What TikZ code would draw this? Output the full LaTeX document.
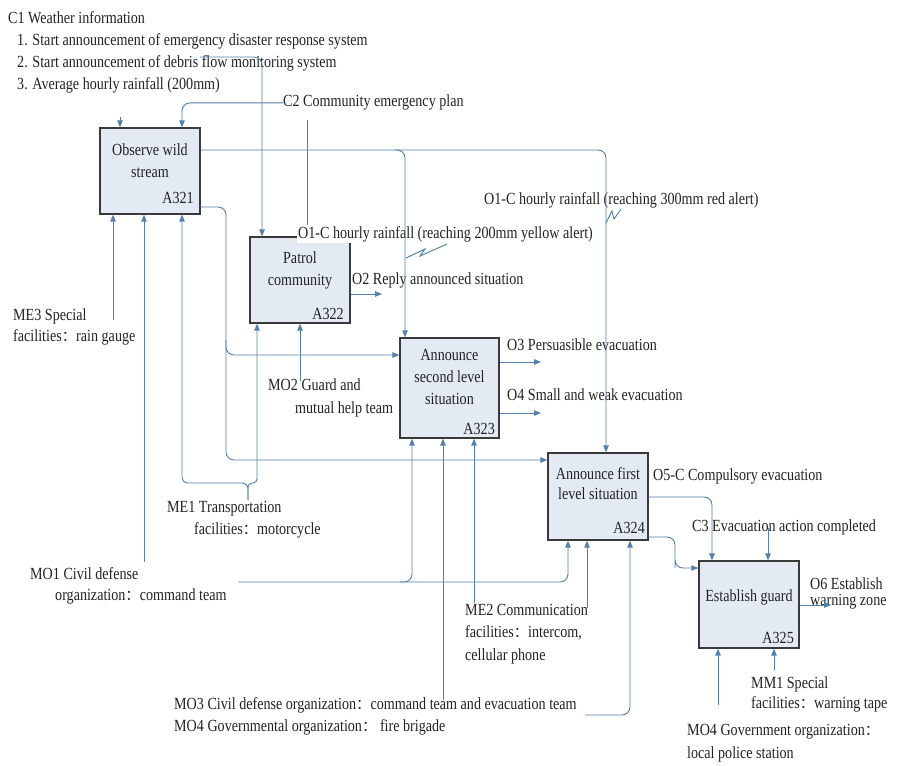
\documentclass[tikz,border=0pt]{standalone}
\usepackage{fontspec}
\setmainfont{Liberation Serif}[FakeStretch=0.83]
\newfontfamily\cjkfont{Noto Sans CJK SC}[Scale=0.85]
\newcommand{\fwcolon}{{\cjkfont\char"FF1A}}
\usetikzlibrary{arrows.meta}

\definecolor{wire}{HTML}{5580AC}
\definecolor{boxfill}{HTML}{E4EAF4}
\definecolor{boxedge}{HTML}{3A3A3A}
\definecolor{ink}{HTML}{222222}

\begin{document}
\begin{tikzpicture}[x=1pt,y=-1pt,
  actbox/.style={draw=boxedge, fill=boxfill, line width=1.3pt, inner sep=0pt},
  lbl/.style={inner sep=0pt, anchor=north west, align=left, text=ink,
              font=\fontsize{17}{21.5}\selectfont},
  intext/.style={inner sep=0pt, anchor=north, align=center, text=ink,
              font=\fontsize{17}{21.5}\selectfont},
  boxid/.style={inner sep=0pt, anchor=base east, text=ink,
              font=\fontsize{17}{21.5}\selectfont},
  wire/.style={draw=wire, line width=0.95pt, rounded corners=8pt},
  arr/.style={wire, -{Triangle[length=7pt,width=5.5pt]}}]

\useasboundingbox (0,0) rectangle (904,765);

% activity boxes
\node[actbox, minimum width=100pt, minimum height=86pt]  (a321) at (150,171)   {};
\node[actbox, minimum width=100pt, minimum height=86pt]  (a322) at (300,280)   {};
\node[actbox, minimum width=99pt,  minimum height=100pt] (a323) at (449.5,388) {};
\node[actbox, minimum width=100pt, minimum height=87pt]  (a324) at (598,496.5) {};
\node[actbox, minimum width=100pt, minimum height=87pt]  (a325) at (749,604.5) {};

% box titles and numbers
\node[intext] (a321t) at (150,144) {Observe wild\\stream};
\node[boxid]  (a321n) at (194,203) {A321};
\node[intext] (a322t) at (300,252) {Patrol\\community};
\node[boxid]  (a322n) at (344,319) {A322};
\node[intext, font=\fontsize{17}{22}\selectfont] (a323t) at (449.5,349) {Announce\\second level\\situation};
\node[boxid]  (a323n) at (495,434) {A323};
\node[intext, font=\fontsize{17}{20}\selectfont] (a324t) at (598,467) {Announce first\\level situation};
\node[boxid]  (a324n) at (645,533) {A324};
\node[intext] (a325t) at (749,589) {Establish guard};
\node[boxid]  (a325n) at (794,643) {A325};

% controls, mechanisms and outputs
\node[lbl, font=\fontsize{17}{22}\selectfont] (c1) at (8,11)
  {C1 Weather information\\
   \hspace*{9pt}1. Start announcement of emergency disaster response system\\
   \hspace*{9pt}2. Start announcement of debris flow monitoring system\\
   \hspace*{9pt}3. Average hourly rainfall (200mm)};
\node[lbl] (c2) at (283,95) {C2 Community emergency plan};
\node[lbl, fill=white, inner sep=1pt] (o1y) at (297,225) {O1-C hourly rainfall (reaching 200mm yellow alert)};
\node[lbl] (o1r) at (484,192) {O1-C hourly rainfall (reaching 300mm red alert)};
\node[lbl] (o2) at (352,273) {O2 Reply announced situation};
\node[lbl, font=\fontsize{17}{21}\selectfont] (me3) at (13,309) {ME3 Special\\facilities\fwcolon rain gauge};
\node[lbl, font=\fontsize{17}{23}\selectfont] (mo2) at (268,378) {MO2 Guard and\\\hspace*{27pt}mutual help team};
\node[lbl] (o3) at (507,339) {O3 Persuasible evacuation};
\node[lbl] (o4) at (507,389) {O4 Small and weak evacuation};
\node[lbl, font=\fontsize{17}{22}\selectfont] (me1) at (167,501) {ME1 Transportation\\\hspace*{27pt}facilities\fwcolon motorcycle};
\node[lbl, font=\fontsize{17}{21}\selectfont] (mo1) at (30,567) {MO1 Civil defense\\\hspace*{25pt}organization\fwcolon command team};
\node[lbl] (o5) at (653,468) {O5-C Compulsory evacuation};
\node[lbl] (c3) at (692,519) {C3 Evacuation action completed};
\node[lbl, font=\fontsize{17}{22.5}\selectfont] (me2) at (465,604) {ME2 Communication\\facilities\fwcolon intercom,\\cellular phone};
\node[lbl, font=\fontsize{17}{22}\selectfont] (mo3) at (174,697)
  {MO3 Civil defense organization\fwcolon command team and evacuation team\\
   MO4 Governmental organization\fwcolon{} fire brigade};
\node[lbl, font=\fontsize{17}{16}\selectfont] (o6) at (810,577) {O6 Establish\\warning zone};
\node[lbl, font=\fontsize{17}{20}\selectfont] (mm1) at (751,676) {MM1 Special\\facilities\fwcolon warning tape};
\node[lbl, font=\fontsize{17}{23}\selectfont] (mo4) at (687,724) {MO4 Government organization\fwcolon\\local police station};

% free ends of the connectors
\coordinate (c1a)  at (120,117);
\coordinate (c1b)  at (200,57);
\coordinate (c2s)  at (307,120);
\coordinate (me3s) at (113,320);
\coordinate (mo1s) at (144,562);
\coordinate (me1s) at (248,500);
\coordinate (me1j) at (248,483);
\coordinate (mo2s) at (300,381);
\coordinate (mo1h) at (238,582);
\coordinate (mo1j) at (400,582);
\coordinate (mo3a) at (443,700);
\coordinate (me2a) at (474,603);
\coordinate (me2b) at (587,608);
\coordinate (mo3b) at (585,715);
\coordinate (c3s)  at (768,528);
\coordinate (mo4s) at (718,705);
\coordinate (mm1s) at (774,670);
\coordinate (o2e)  at (382,294);
\coordinate (o3e)  at (541,362);
\coordinate (o4e)  at (541,413);
\coordinate (o6e)  at (831,605);
\coordinate (top150) at (395,150);
\coordinate (v226)   at (226,340);

% controls
\draw[arr] (c1a) -- (c1a |- a321.north);
\draw[arr] (c2.west) -| ([xshift=32pt]a321.north);
\draw[arr] (c1b) -| ([xshift=-38pt]a322.north);
\draw[wire] (c2s) -- (c2s |- o1y.north);

% outputs of A321
\draw[arr] ([yshift=21pt]a321.east) -| ([xshift=-44.5pt]a323.north);
\draw[arr] (top150) -| ([xshift=8pt]a324.north);
\draw[arr] ([yshift=-36pt]a321.east) -| (v226) |- ([yshift=33pt]a323.west);
\draw[arr] (v226) |- ([yshift=36.5pt]a324.west);

% squiggles tying labels to arrows
\draw[wire, rounded corners=0pt] (406,258) -- (425,249) -- (420,256) -- (447,244);
\draw[wire, rounded corners=0pt] (606,223) -- (612,211) -- (614,219) -- (621,209);

% mechanisms of A321 and A322
\draw[arr] (me3s) -- (me3s |- a321.south);
\draw[arr] (mo1s) -- (mo1s |- a321.south);
\draw[arr, rounded corners=6pt] (me1s) -- (me1j) -| ([xshift=32pt]a321.south);
\draw[arr, rounded corners=4pt] (me1s) -- (me1j) -| ([xshift=-43pt]a322.south);
\draw[arr] (mo2s) -- (mo2s |- a322.south);

% outputs of A322 and A323
\draw[arr] ([yshift=-14pt]a322.east) -- (o2e);
\draw[arr] ([yshift=26pt]a323.east) -- (o3e);
\draw[arr] ([yshift=-25pt]a323.east) -- (o4e);

% mechanisms of A323 and A324
\draw[arr] (mo1h) -| ([xshift=-37.5pt]a323.south);
\draw[arr] (mo1j) -| ([xshift=-30pt]a324.south);
\draw[arr] (mo3a) -- (mo3a |- a323.south);
\draw[arr] (me2a) -- (me2a |- a323.south);
\draw[arr] (me2b) -- (me2b |- a324.south);
\draw[arr] (mo3b) -| ([xshift=32pt]a324.south);

% A324 to A325
\draw[arr] ([yshift=-0.5pt]a324.east) -| ([xshift=-37pt]a325.north);
\draw[arr] ([yshift=-40.5pt]a324.east) -| (675,560) |- ([yshift=36.5pt]a325.west);
\draw[arr] (c3s) -- (c3s |- a325.north);

% A325
\draw[arr] ([yshift=-0.5pt]a325.east) -- (o6e);
\draw[arr] (mo4s) -- (mo4s |- a325.south);
\draw[arr] (mm1s) -- (mm1s |- a325.south);
\end{tikzpicture}
\end{document}
